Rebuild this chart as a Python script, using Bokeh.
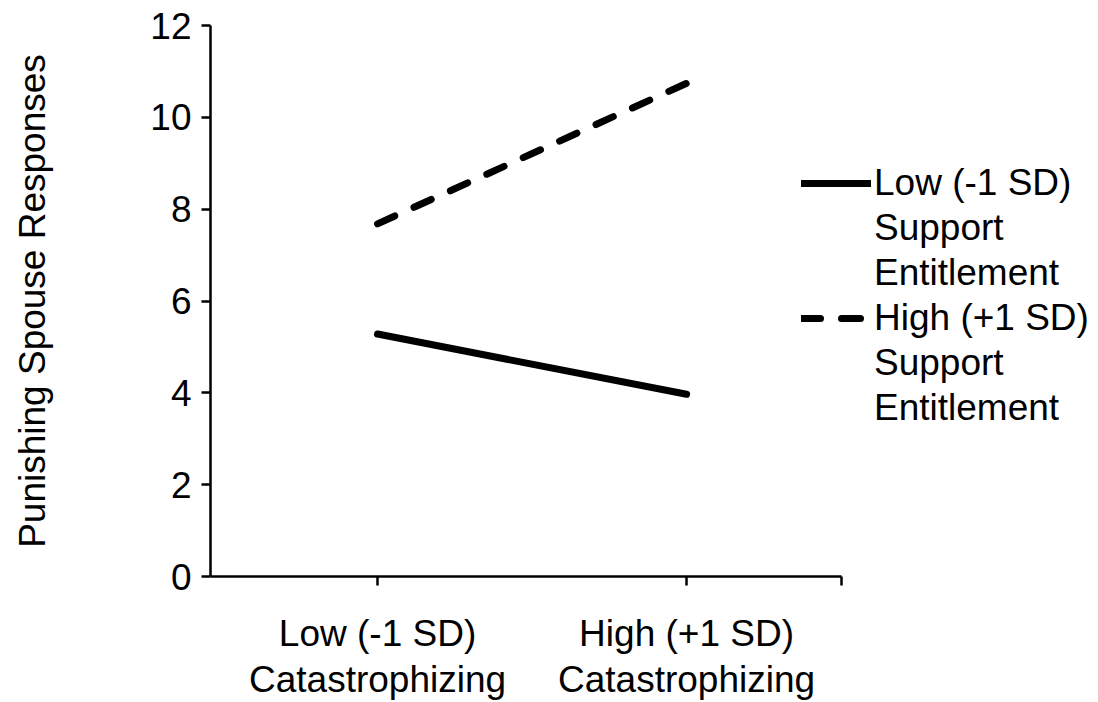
from bokeh.plotting import figure
from bokeh.models import Range1d, FixedTicker, Legend, LegendItem, ColumnDataSource
from bokeh.embed import file_html
from bokeh.resources import INLINE

# data
x_positions = [1, 2]
x_labels = ["Low (-1 SD)\nCatastrophizing", "High (+1 SD)\nCatastrophizing"]
low_support = [5.28, 3.97]
high_support = [7.68, 10.74]
y_ticks = [0, 2, 4, 6, 8, 10, 12]
series_names = [["Low (-1 SD)", "Support", "Entitlement"],
                ["High (+1 SD)", "Support", "Entitlement"]]

FONT = "Liberation Sans"
FS = "37px"

p = figure(width=1098, height=702, output_backend="svg", toolbar_location=None,
           x_range=Range1d(0.4595, 3.333), y_range=Range1d(0, 12),
           min_border_left=210, min_border_right=0, min_border_top=25,
           min_border_bottom=124)
p.outline_line_color = None
p.grid.grid_line_color = None
p.background_fill_color = "white"
p.border_fill_color = "white"

src = ColumnDataSource(dict(x=x_positions, low=low_support, high=high_support))

r_low = p.line("x", "low", source=src, line_color="black", line_width=7, line_cap="round")
r_high = p.line("x", "high", source=src, line_color="black", line_width=7, line_cap="round",
                line_dash="19 21")
r_blank = p.line("x", "low", source=src, line_alpha=0)

# axes
xa = p.xaxis[0]
xa.bounds = (0.4595, 2.5)
xa.ticker = FixedTicker(ticks=x_positions + [2.5])
overrides = {x: lab for x, lab in zip(x_positions, x_labels)}
overrides[2.5] = ""
xa.major_label_overrides = overrides
xa.minor_tick_line_color = None
xa.axis_line_width = 2.5
xa.major_tick_line_width = 2.5
xa.major_tick_in = 0
xa.major_tick_out = 9
xa.major_label_text_font = FONT
xa.major_label_text_font_size = FS
xa.major_label_text_color = "black"
xa.major_label_standoff = 27
xa.major_label_text_line_height = 1.13

ya = p.yaxis[0]
ya.ticker = FixedTicker(ticks=y_ticks)
ya.minor_tick_line_color = None
ya.axis_line_width = 2.5
ya.major_tick_line_width = 2.5
ya.major_tick_in = 0
ya.major_tick_out = 9
ya.major_label_text_font = FONT
ya.major_label_text_font_size = FS
ya.major_label_text_color = "black"
ya.major_label_standoff = 10
ya.axis_label = "Punishing Spouse Responses"
ya.axis_label_text_font = FONT
ya.axis_label_text_font_size = FS
ya.axis_label_text_font_style = "normal"
ya.axis_label_text_color = "black"
ya.axis_label_standoff = 94

items = []
for renderer, names in zip([r_low, r_high], series_names):
    items.append(LegendItem(label=names[0], renderers=[renderer]))
    for n in names[1:]:
        items.append(LegendItem(label=n, renderers=[r_blank]))

legend = Legend(items=items, location=(591, 147), orientation="vertical")
legend.glyph_width = 70
legend.glyph_height = 42
legend.label_height = 42
legend.spacing = 3
legend.padding = 0
legend.margin = 0
legend.label_standoff = 3
legend.border_line_color = None
legend.background_fill_alpha = 0
legend.label_text_font = FONT
legend.label_text_font_size = FS
legend.label_text_color = "black"
p.add_layout(legend, "center")

open("out.html", "w").write(file_html(p, INLINE))
